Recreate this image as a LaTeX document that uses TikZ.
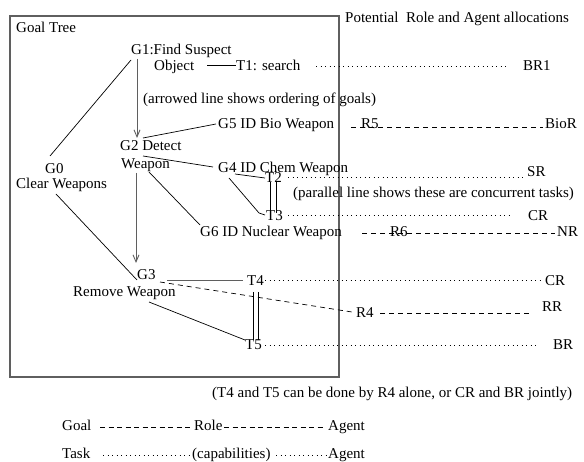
\documentclass[tikz,border=0pt]{standalone}
\usepackage{fontspec}
\setmainfont{Liberation Serif}
\usetikzlibrary{arrows.meta}
\definecolor{boxgray}{RGB}{95,95,95}
\tikzset{
  lbl/.style={font=\fontsize{15}{18}\selectfont, inner sep=0pt, anchor=base west},
  conn/.style={black, line width=0.7pt},
  ordarrow/.style={boxgray, line width=0.9pt, -{Straight Barb[length=7pt,width=6pt]}},
  rolelink/.style={black, line width=0.7pt, dash pattern=on 5pt off 4pt},
  caplink/.style={black, line width=0.7pt, dash pattern=on 0.8pt off 3.7pt},
  parline/.style={black, line width=0.8pt},
}
\begin{document}
\begin{tikzpicture}[x=1pt,y=-1pt]
\useasboundingbox (0,0) rectangle (584,462);
% frame
\draw[boxgray, line width=1.1pt] (10,16) rectangle (339,377);
% texts
\node[lbl] (gt)   at (16,33)  {Goal Tree};
\node[lbl] (pot)  at (345,23) {Potential\ \ Role and Agent allocations};
\node[lbl] (g1)   at (131,55) {G1:Find Suspect};
\node[lbl] (obj)  at (154,71) {Object};
\node[lbl] (t1)   at (236,71) {T1: search};
\node[lbl] (br1)  at (523,71) {BR1};
\node[lbl] (n1)   at (143,104) {(arrowed line shows ordering of goals)};
\node[lbl] (g5)   at (218,129) {G5 ID Bio Weapon};
\node[lbl] (r5)   at (361,129) {R5};
\node[lbl] (bior) at (545,129) {BioR};
\node[lbl] (g2)   at (120,151) {G2 Detect};
\node[lbl] (g2b)  at (121,169) {Weapon};
\node[lbl] (g4)   at (218,173) {G4 ID Chem Weapon};
\node[lbl] (sr)   at (527,177) {SR};
\node[lbl] (t2)   at (265,183) {T2};
\node[lbl] (g0)   at (45,174) {G0};
\node[lbl] (g0b)  at (16,189) {Clear Weapons};
\node[lbl] (n2)   at (293,198) {(parallel line shows these are concurrent tasks)};
\node[lbl] (t3)   at (266,221) {T3};
\node[lbl] (cr1)  at (528,221) {CR};
\node[lbl] (g6)   at (200,237) {G6 ID Nuclear Weapon};
\node[lbl] (r6)   at (390,237) {R6};
\node[lbl] (nr)   at (557,237) {NR};
\node[lbl] (g3)   at (137,280) {G3};
\node[lbl] (t4)   at (247,286) {T4};
\node[lbl] (cr2)  at (545,286) {CR};
\node[lbl] (g3b)  at (73,297) {Remove Weapon};
\node[lbl] (r4)   at (356,318) {R4};
\node[lbl] (rr)   at (542,312) {RR};
\node[lbl] (t5)   at (245,350) {T5};
\node[lbl] (br)   at (553,350) {BR};
\node[lbl] (n3)   at (212,398) {(T4 and T5 can be done by R4 alone, or CR and BR jointly)};
\node[lbl] (lgoal) at (62,431) {Goal};
\node[lbl] (lrole) at (194,431) {Role};
\node[lbl] (lag1)  at (328,431) {Agent};
\node[lbl] (ltask) at (62,458) {Task};
\node[lbl] (lcap)  at (192,458) {(capabilities)};
\node[lbl] (lag2)  at (328,458) {Agent};
% ordering arrows
\draw[ordarrow] (137,59) -- (137,138);
\draw[ordarrow] (136,173) -- (136,263);
% goal tree links
\draw[conn] (131,60) -- (50,156);
\draw[conn] (143,138) -- (216,124);
\draw[conn] (143,156) -- (213,167);
\draw[conn] (149,172) -- (200,225);
\draw[conn] (56,194) -- (137,280);
\draw[conn] (207,65) -- (t1.west |- 0,65);
\draw[conn] (235,174) -- (265,178);
\draw[conn] (229,178) -- (259,213) -- (265,215);
\draw[boxgray, line width=0.9pt] (167,280) -- (243,280);
\draw[conn] (149,302) -- (245,340);
% concurrency
\draw[parline] (270,182) -- (270,213);
\draw[parline] (276,182) -- (276,213);
\draw[parline] (253,292) -- (253,340);
\draw[parline] (258,292) -- (258,340);
% role links
\draw[rolelink] (351,127) -- (543,127);
\draw[rolelink] (362,233) -- (555,233);
\draw[rolelink] (160,282) -- (352,312);
\draw[rolelink] (380,313) -- (532,313);
% capability links
\draw[caplink] (316,66) -- (507,66);
\draw[caplink] (288,177) -- (525,177);
\draw[caplink] (288,215) -- (510,215);
\draw[caplink] (265,280) -- (543,280);
\draw[caplink] (265,345) -- (538,345);
% legend
\draw[rolelink, dash pattern=on 5pt off 3.5pt] (100,427) -- (193,427);
\draw[rolelink, dash pattern=on 5pt off 3.5pt] (224,427) -- (324,427);
\draw[caplink] (103,455) -- (191,455);
\draw[caplink] (276,455) -- (327,455);
\end{tikzpicture}
\end{document}
